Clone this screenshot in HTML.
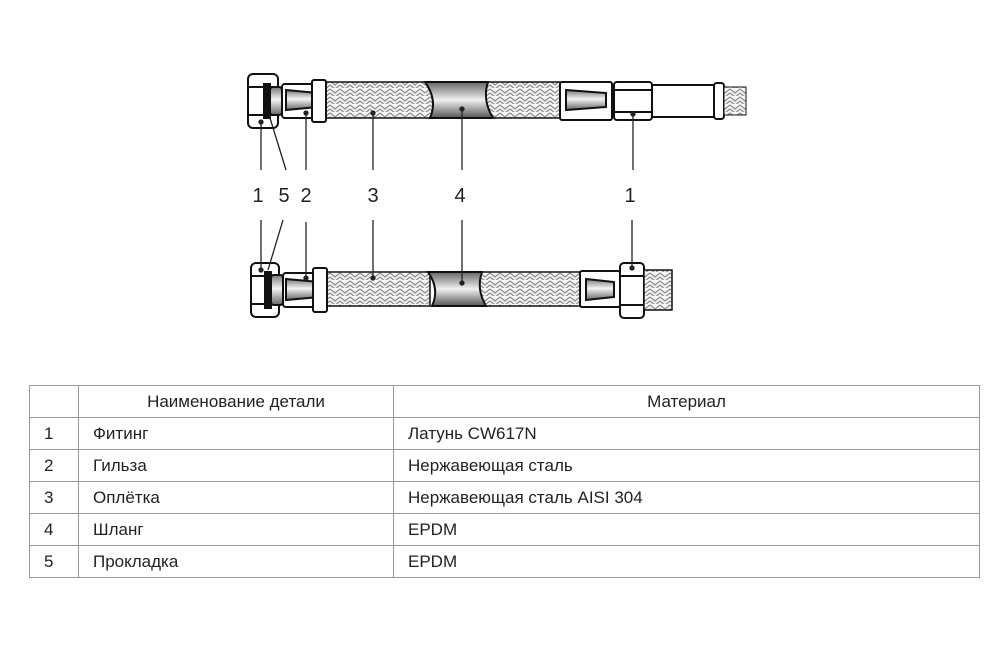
<!DOCTYPE html>
<html><head><meta charset="utf-8"><style>
body{margin:0;background:#fff;width:1000px;height:650px;position:relative;overflow:hidden;font-family:"Liberation Sans","DejaVu Sans",sans-serif}
svg{position:absolute;left:0;top:0}
table{position:absolute;left:29px;top:385px;border-collapse:collapse;width:951px;font-size:17px;color:#222}
td{border:1.5px solid #999;height:30.5px;padding:0 0 0 14px;box-sizing:border-box}
tr{height:32px}
</style></head><body>
<svg width="1000" height="380" viewBox="0 0 1000 380">
<defs>
<pattern id="br" width="10" height="8" patternUnits="userSpaceOnUse">
<rect width="10" height="8" fill="#f6f6f6"/>
<path d="M0 1 L5 5 L10 1 M0 5 L5 9 L10 5" fill="none" stroke="#8a8a8a" stroke-width="1.2"/>
</pattern>
<linearGradient id="hg" x1="0" y1="0" x2="0" y2="1">
<stop offset="0" stop-color="#666"/><stop offset="0.5" stop-color="#f0f0f0"/><stop offset="1" stop-color="#555"/>
</linearGradient>
<linearGradient id="mg" x1="0" y1="0" x2="0" y2="1">
<stop offset="0" stop-color="#777"/><stop offset="0.45" stop-color="#f4f4f4"/><stop offset="1" stop-color="#666"/>
</linearGradient>
</defs>
<g stroke="#111" stroke-width="2" fill="#fff">
<!-- TOP -->
<rect x="326" y="82" width="108" height="36" fill="url(#br)" stroke-width="1.5"/>
<rect x="480" y="82" width="82" height="36" fill="url(#br)" stroke-width="1.5"/>
<path d="M425 82 L488 82 Q482 100 493 118 L430 118 Q438 100 425 82Z" fill="url(#hg)"/>
<rect x="248" y="74" width="30" height="54" rx="5"/>
<line x1="249" y1="87" x2="277" y2="87"/><line x1="249" y1="115" x2="277" y2="115"/>
<rect x="264" y="84" width="6" height="34" fill="#111"/>
<rect x="270" y="87" width="12" height="28" rx="3" fill="url(#mg)"/>
<rect x="282" y="84" width="32" height="34" rx="3"/>
<path d="M286 90 L318 93 L318 107 L286 110Z" fill="url(#mg)"/>
<rect x="312" y="80" width="14" height="42" rx="2"/>
<rect x="560" y="82" width="52" height="38" rx="2"/>
<path d="M566 90 L606 93 L606 107 L566 110Z" fill="url(#mg)"/>
<rect x="614" y="82" width="38" height="38" rx="3"/>
<line x1="614" y1="90" x2="652" y2="90"/><line x1="614" y1="112" x2="652" y2="112"/>
<rect x="652" y="85" width="66" height="32"/>
<rect x="714" y="83" width="10" height="36" rx="3"/>
<rect x="724" y="87" width="22" height="28" fill="url(#br)" stroke-width="1"/>
<!-- BOTTOM -->
<rect x="326" y="272" width="104" height="34" fill="url(#br)" stroke-width="1.5"/>
<rect x="478" y="272" width="104" height="34" fill="url(#br)" stroke-width="1.5"/>
<path d="M428 272 L482 272 Q476 289 486 306 L432 306 Q440 289 428 272Z" fill="url(#hg)"/>
<rect x="251" y="263" width="28" height="54" rx="5"/>
<line x1="252" y1="276" x2="278" y2="276"/><line x1="252" y1="304" x2="278" y2="304"/>
<rect x="265" y="272" width="6" height="36" fill="#111"/>
<rect x="271" y="275" width="12" height="30" rx="3" fill="url(#mg)"/>
<rect x="283" y="273" width="32" height="34" rx="3"/>
<path d="M286 279 L320 282 L320 297 L286 300Z" fill="url(#mg)"/>
<rect x="313" y="268" width="14" height="44" rx="2"/>
<rect x="580" y="271" width="40" height="36" rx="2"/>
<path d="M586 279 L614 282 L614 297 L586 300Z" fill="url(#mg)"/>
<rect x="620" y="263" width="24" height="55" rx="4"/>
<line x1="620" y1="276" x2="644" y2="276"/><line x1="620" y1="305" x2="644" y2="305"/>
<rect x="644" y="270" width="28" height="40" fill="url(#br)" stroke-width="1.5"/>
</g>
<!-- leaders -->
<g stroke="#222" stroke-width="1.3" fill="#222">
<line x1="261" y1="122" x2="261" y2="170"/><circle cx="261" cy="122" r="2"/>
<line x1="270" y1="118" x2="286" y2="170"/>
<line x1="306" y1="113" x2="306" y2="170"/><circle cx="306" cy="113" r="2"/>
<line x1="373" y1="113" x2="373" y2="170"/><circle cx="373" cy="113" r="2"/>
<line x1="462" y1="109" x2="462" y2="170"/><circle cx="462" cy="109" r="2"/>
<line x1="633" y1="114" x2="633" y2="170"/><circle cx="633" cy="114" r="2"/>
<line x1="261" y1="220" x2="261" y2="270"/><circle cx="261" cy="270" r="2"/>
<line x1="283" y1="220" x2="268" y2="270"/>
<line x1="306" y1="222" x2="306" y2="278"/><circle cx="306" cy="278" r="2"/>
<line x1="373" y1="220" x2="373" y2="278"/><circle cx="373" cy="278" r="2"/>
<line x1="462" y1="220" x2="462" y2="283"/><circle cx="462" cy="283" r="2"/>
<line x1="632" y1="220" x2="632" y2="268"/><circle cx="632" cy="268" r="2"/>
</g>
<g font-family="Liberation Sans, sans-serif" font-size="20" fill="#222" text-anchor="middle">
<text x="258" y="202">1</text><text x="284" y="202">5</text><text x="306" y="202">2</text>
<text x="373" y="202">3</text><text x="460" y="202">4</text><text x="630" y="202">1</text>
</g>
</svg>
<table>
<colgroup><col style="width:49px"><col style="width:315px"><col></colgroup>
<tr><td></td><td style="text-align:center;padding:0">Наименование детали</td><td style="text-align:center;padding:0">Материал</td></tr>
<tr><td>1</td><td>Фитинг</td><td>Латунь CW617N</td></tr>
<tr><td>2</td><td>Гильза</td><td>Нержавеющая сталь</td></tr>
<tr><td>3</td><td>Оплётка</td><td>Нержавеющая сталь AISI 304</td></tr>
<tr><td>4</td><td>Шланг</td><td>EPDM</td></tr>
<tr><td>5</td><td>Прокладка</td><td>EPDM</td></tr>
</table>
</body></html>
